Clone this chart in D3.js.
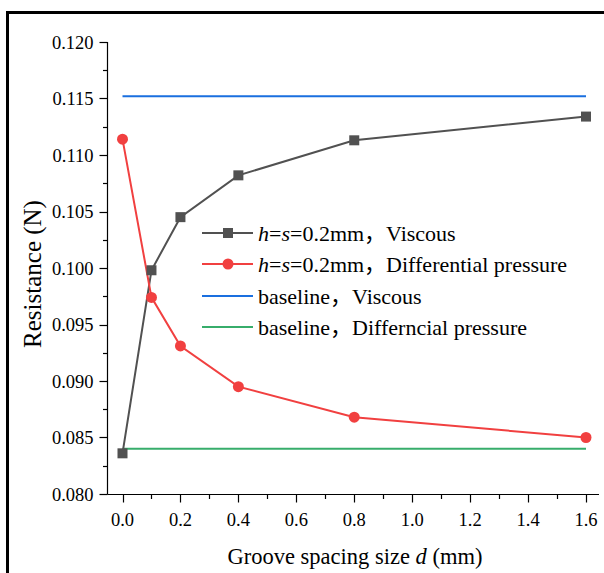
<!DOCTYPE html>
<html><head><meta charset="utf-8">
<script src="https://cdn.jsdelivr.net/npm/d3@7"></script>
<style>body{margin:0;background:#fff}svg{display:block}</style>
</head><body>
<script>
const xValues = [0.0, 0.1, 0.2, 0.4, 0.8, 1.6];
const viscous = [0.0836, 0.0998, 0.1045, 0.1082, 0.1113, 0.1134];
const diffPressure = [0.1114, 0.0974, 0.0931, 0.0895, 0.0868, 0.0850];
const baselineViscous = 0.1152;
const baselineDiff = 0.0840;
const xTicks = [0.0, 0.2, 0.4, 0.6, 0.8, 1.0, 1.2, 1.4, 1.6];
const yTicks = [0.080, 0.085, 0.090, 0.095, 0.100, 0.105, 0.110, 0.115, 0.120];
const legendLabels = [
  ["h", "=", "s", "=0.2mm，Viscous"],
  ["h", "=", "s", "=0.2mm，Differential pressure"],
  ["baseline，Viscous"],
  ["baseline，Differncial pressure"]
];
const colors = ["#515151", "#F14040", "#1A6FDF", "#37AD6B"];

const W = 604, H = 573;
const font = "'Liberation Serif', 'Noto Sans CJK SC', serif";
const svg = d3.select("body").append("svg").attr("width", W).attr("height", H);

// frame
svg.append("rect").attr("x", 7.5).attr("y", 12.5).attr("width", 620).attr("height", 600)
  .attr("fill", "none").attr("stroke", "#000").attr("stroke-width", 3);

const x = d3.scaleLinear().domain([0, 1.6]).range([122.5, 586]);
const y = d3.scaleLinear().domain([0.080, 0.120]).range([494, 42]);
const axL = 107.5, axB = 494.5, axR = 599;

const g = svg.append("g");
// axis lines
g.append("line").attr("x1", axL).attr("x2", axL).attr("y1", 42).attr("y2", axB).attr("stroke", "#000").attr("stroke-width", 1.2);
g.append("line").attr("x1", axL).attr("x2", axR).attr("y1", axB).attr("y2", axB).attr("stroke", "#000").attr("stroke-width", 1.2);

// y ticks
const yMinor = d3.range(0.0825, 0.120, 0.005);
g.selectAll(".ytk").data(yTicks).join("line").attr("x1", axL - 8).attr("x2", axL)
  .attr("y1", d => Math.round(y(d)) + 0.5).attr("y2", d => Math.round(y(d)) + 0.5).attr("stroke", "#000").attr("stroke-width", 1.2);
g.selectAll(".ytm").data(yMinor).join("line").attr("x1", axL - 4.5).attr("x2", axL)
  .attr("y1", d => Math.round(y(d)) + 0.5).attr("y2", d => Math.round(y(d)) + 0.5).attr("stroke", "#000").attr("stroke-width", 1.2);
g.selectAll(".ytl").data(yTicks).join("text").attr("x", axL - 14).attr("y", d => y(d) + 6.5)
  .attr("text-anchor", "end").attr("font-family", font).attr("font-size", 18.5).text(d => d3.format(".3f")(d));

// x ticks
const xMinor = d3.range(0.1, 1.7, 0.2);
g.selectAll(".xtk").data(xTicks).join("line").attr("y1", axB).attr("y2", axB + 8)
  .attr("x1", d => Math.round(x(d)) + 0.5).attr("x2", d => Math.round(x(d)) + 0.5).attr("stroke", "#000").attr("stroke-width", 1.2);
g.selectAll(".xtm").data(xMinor).join("line").attr("y1", axB).attr("y2", axB + 4.5)
  .attr("x1", d => Math.round(x(d)) + 0.5).attr("x2", d => Math.round(x(d)) + 0.5).attr("stroke", "#000").attr("stroke-width", 1.2);
g.selectAll(".xtl").data(xTicks).join("text").attr("x", d => x(d)).attr("y", axB + 31)
  .attr("text-anchor", "middle").attr("font-family", font).attr("font-size", 18.5).text(d => d3.format(".1f")(d));

// axis titles
svg.append("text").attr("transform", `translate(41,274) rotate(-90)`).attr("text-anchor", "middle")
  .attr("font-family", font).attr("font-size", 25).text("Resistance (N)");
const xt = svg.append("text").attr("x", 355).attr("y", 564).attr("text-anchor", "middle")
  .attr("font-family", font).attr("font-size", 22.5);
xt.append("tspan").text("Groove spacing size ");
xt.append("tspan").attr("font-style", "italic").text("d");
xt.append("tspan").text(" (mm)");

// baselines
const line = d3.line().x(d => x(d[0])).y(d => y(d[1]));
g.append("path").datum([[0, baselineViscous], [1.6, baselineViscous]]).attr("d", line)
  .attr("stroke", colors[2]).attr("stroke-width", 2).attr("fill", "none");
g.append("path").datum([[0, baselineDiff], [1.6, baselineDiff]]).attr("d", line)
  .attr("stroke", colors[3]).attr("stroke-width", 2).attr("fill", "none");

// series
const vData = xValues.map((d, i) => [d, viscous[i]]);
const pData = xValues.map((d, i) => [d, diffPressure[i]]);
g.append("path").datum(vData).attr("d", line).attr("stroke", colors[0]).attr("stroke-width", 2).attr("fill", "none");
g.append("path").datum(pData).attr("d", line).attr("stroke", colors[1]).attr("stroke-width", 2).attr("fill", "none");
g.selectAll(".sq").data(vData).join("rect").attr("x", d => x(d[0]) - 5).attr("y", d => y(d[1]) - 5)
  .attr("width", 10).attr("height", 10).attr("fill", colors[0]);
g.selectAll(".ci").data(pData).join("circle").attr("cx", d => x(d[0])).attr("cy", d => y(d[1]))
  .attr("r", 5.5).attr("fill", colors[1]);

// legend
const lg = svg.append("g");
const rowsY = [233, 264, 296, 327];
legendLabels.forEach((lab, i) => {
  const yy = rowsY[i];
  lg.append("line").attr("x1", 202).attr("x2", 253).attr("y1", yy).attr("y2", yy)
    .attr("stroke", colors[i]).attr("stroke-width", 2);
  if (i === 0) lg.append("rect").attr("x", 223).attr("y", yy - 5).attr("width", 10).attr("height", 10).attr("fill", colors[0]);
  if (i === 1) lg.append("circle").attr("cx", 228).attr("cy", yy).attr("r", 5.5).attr("fill", colors[1]);
  const t = lg.append("text").attr("x", 258).attr("y", yy + 7.5).attr("font-family", font).attr("font-size", 22);
  if (lab.length === 4) {
    t.append("tspan").attr("font-style", "italic").text(lab[0]);
    t.append("tspan").text(lab[1]);
    t.append("tspan").attr("font-style", "italic").text(lab[2]);
    t.append("tspan").text(lab[3]);
  } else {
    t.text(lab[0]);
  }
});
</script>
</body></html>
